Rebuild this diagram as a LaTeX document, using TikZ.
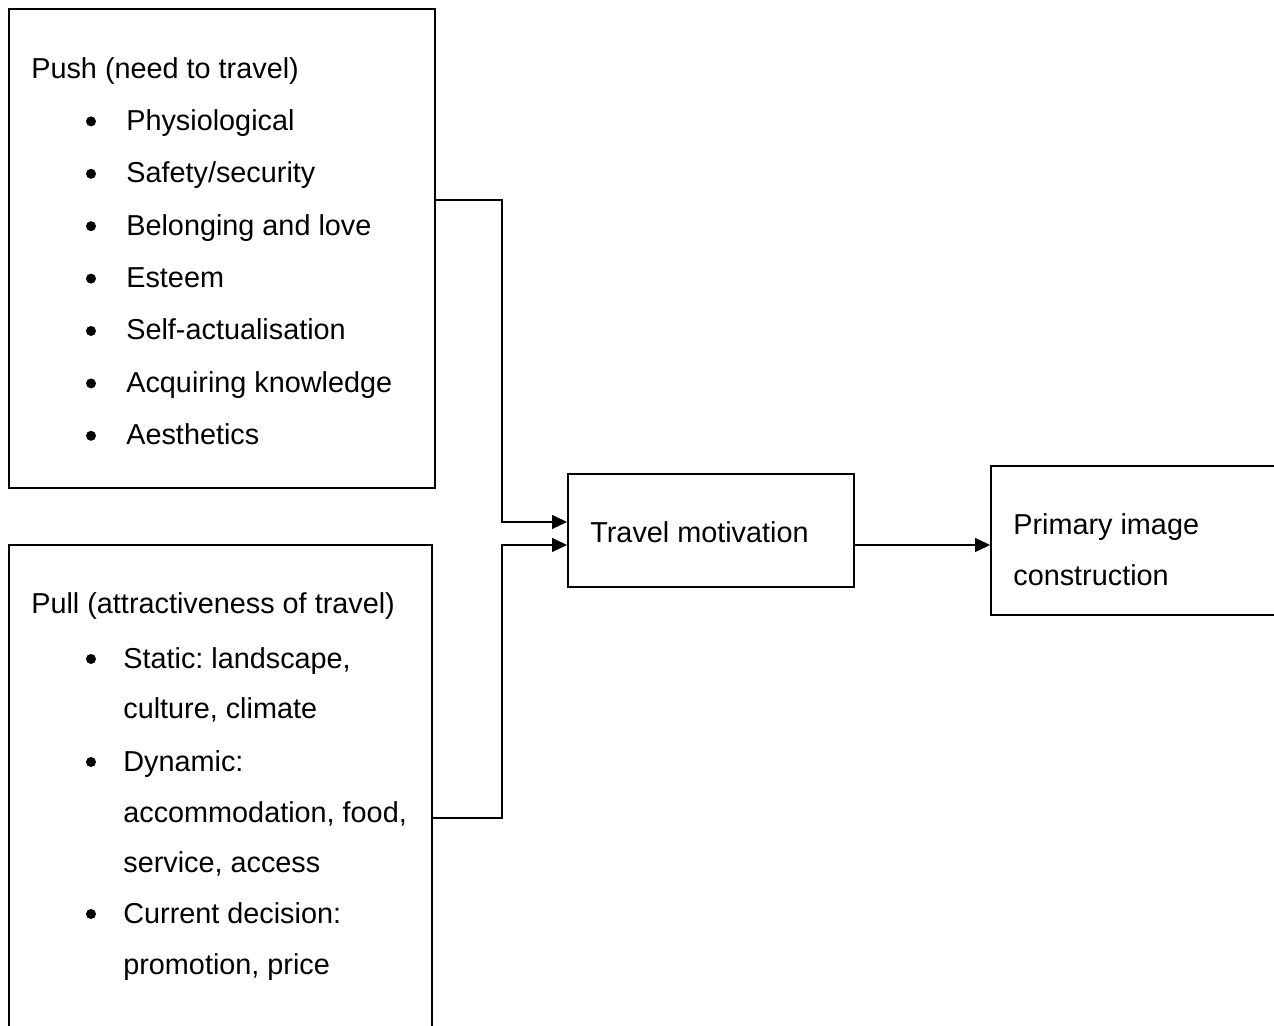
\documentclass[tikz,border=0pt]{standalone}
\usepackage{fontspec}
\setmainfont{Liberation Sans}
\usetikzlibrary{arrows.meta,fit}
\frenchspacing

\tikzset{
  box/.style={draw, line width=1.1pt, inner sep=0pt},
  txt/.style={anchor=base west, inner sep=0pt, font=\fontsize{16.4}{20}\selectfont},
  link/.style={line width=.6pt, -{Triangle[length=.3cm, width=.28cm]}}
}

\begin{document}
\begin{tikzpicture}[x=.02cm, y=-.02cm]
\useasboundingbox (0,0) rectangle (1274,1026);
\clip (0,0) rectangle (1274,1026);

% boxes
\node[box, fit={(9,9) (435,488)}] (push) {};
\node[box, fit={(9,545) (432,1060)}] (pull) {};
\node[box, fit={(568,474) (854,587)}] (motiv) {};
\node[box, fit={(991,466) (1320,615)}] (image) {};

% push factors
\node[txt] (pushhead) at (31,79) {Push (need to travel)};
\foreach \t [count=\i] in {Physiological, Safety/security, Belonging and love, Esteem, Self-actualisation, Acquiring knowledge, Aesthetics}
{
   \node[txt] (push\i) at (126,78+52.4*\i) {\t};
   \fill (91,78+52.4*\i-9) circle[radius=.1cm];
}

% pull factors
\node[txt] (pullhead) at (31,614) {Pull (attractiveness of travel)};
\foreach \y/\t [count=\i] in {668/{Static: landscape,}, 718/{culture, climate}, 771/{Dynamic:}, 822/{accommodation, food,}, 872/{service, access}, 923/{Current decision:}, 974/{promotion, price}}
{
   \node[txt] (pull\i) at (123,\y) {\t};
}
\foreach \y in {668,771,923}
{
   \fill (91,\y-9) circle[radius=.1cm];
}

\node[txt] (motivtext) at (590,543) {Travel motivation};
\node[txt] (imagetext) at (1013,535) {Primary image};
\node[txt] (imagetext2) at (1013,585) {construction};

% connectors
\coordinate (pushout) at (push.east |- 0,200);
\coordinate (pullout) at (pull.east |- 0,818);
\draw[link] (pushout) -- (502,200) |- (motiv.west |- 0,522);
\draw[link] (pullout) -- (502,818) |- (motiv.west |- 0,545);
\draw[link] (motiv.east |- 0,545) -- (image.west |- 0,545);
\end{tikzpicture}
\end{document}
